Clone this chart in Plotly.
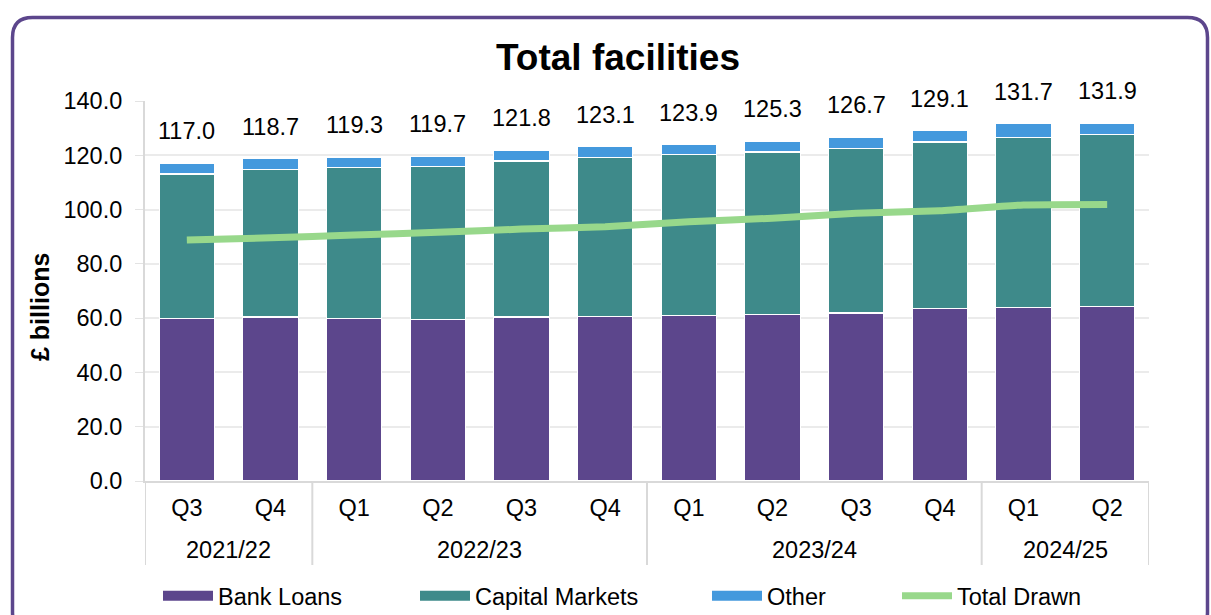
import plotly.graph_objects as go

# Financial-year groups and quarters for each bar
years = ["2021/22", "2021/22", "2022/23", "2022/23", "2022/23", "2022/23",
         "2023/24", "2023/24", "2023/24", "2023/24", "2024/25", "2024/25"]
quarters = ["Q3", "Q4", "Q1", "Q2", "Q3", "Q4", "Q1", "Q2", "Q3", "Q4", "Q1", "Q2"]

# Facilities by source (£ billions)
bank_loans = [59.9, 60.4, 59.8, 59.6, 60.4, 60.7, 61.0, 61.3, 61.9, 63.6, 64.0, 64.4]
capital_markets = [53.2, 54.4, 55.8, 56.4, 57.5, 58.6, 59.4, 59.9, 60.7, 61.3, 62.7, 63.3]
other = [3.9, 3.9, 3.7, 3.7, 3.9, 3.8, 3.5, 4.1, 4.1, 4.2, 5.0, 4.2]

# Amount drawn (£ billions)
total_drawn = [88.8, 89.6, 90.6, 91.6, 92.8, 93.7, 95.5, 96.8, 98.6, 99.6, 101.7, 101.9]

totals = [round(b + c + o, 1) for b, c, o in zip(bank_loans, capital_markets, other)]

PURPLE = "#5C468C"
TEAL = "#3E8A8A"
BLUE = "#4499DD"
GREEN = "#98D88B"
AXIS_GREY = "#D9D9D9"
FONT = "Liberation Sans, Arial, sans-serif"
FS = 23.5

W, H = 1211, 615
ML, MR, MT, MB = 145, 62, 101, 134
PW, PH = W - ML - MR, H - MT - MB


def px(x):
    return (x - ML) / PW


def py(y):
    return (H - MB - y) / PH


idx = list(range(len(quarters)))
fig = go.Figure()

for name, vals, col in [("Bank Loans", bank_loans, PURPLE),
                        ("Capital Markets", capital_markets, TEAL),
                        ("Other", other, BLUE)]:
    fig.add_trace(go.Bar(x=idx, y=vals, name=name, marker_color=col,
                         marker_line=dict(color="white", width=1.2),
                         showlegend=False))

fig.add_trace(go.Scatter(x=idx, y=total_drawn, name="Total Drawn", mode="lines",
                         line=dict(color=GREEN, width=7, shape="spline", smoothing=0.5),
                         showlegend=False))

# Legend entries drawn as wide swatches, one legend per entry
legend_items = [("Bank Loans", PURPLE, 11, 163),
                ("Capital Markets", TEAL, 11, 420),
                ("Other", BLUE, 11, 712),
                ("Total Drawn", GREEN, 7, 902)]
for i, (name, col, lw, left) in enumerate(legend_items):
    lg = "legend" if i == 0 else f"legend{i + 1}"
    fig.add_trace(go.Scatter(x=[idx[0]], y=[None], mode="lines",
                             name=name, line=dict(color=col, width=lw),
                             legend=lg, showlegend=True))
    fig.update_layout({lg: dict(x=(left - 5) / W, y=1 - 596 / H, xref="container",
                                yref="container", xanchor="left", yanchor="middle",
                                orientation="h", itemwidth=50, bgcolor="rgba(0,0,0,0)",
                                font=dict(family=FONT, size=FS, color="black"))})

annotations = []
for i, t in enumerate(totals):
    annotations.append(dict(x=i, y=t, xref="x", yref="y", text=f"{t:.1f}",
                            showarrow=False, yshift=32, yanchor="middle",
                            font=dict(family=FONT, size=FS, color="black")))

# Year group labels and dividers under the quarter labels
shapes = []
groups = []
for i, yr in enumerate(years):
    if not groups or groups[-1][0] != yr:
        groups.append([yr, i, i])
    else:
        groups[-1][2] = i
for yr, a, b in groups:
    annotations.append(dict(x=(a + b) / 2, y=py(550), xref="x", yref="paper", text=yr,
                            showarrow=False, xanchor="center", yanchor="middle",
                            font=dict(family=FONT, size=FS, color="black")))
bounds = [groups[0][1] - 0.5] + [g[2] + 0.5 for g in groups]
for xb in bounds:
    shapes.append(dict(type="line", xref="x", yref="paper", x0=xb, x1=xb,
                       y0=0, y1=py(565), line=dict(color=AXIS_GREY, width=2)))

annotations.append(dict(x=px(617.5), y=py(58), xref="paper", yref="paper",
                        text="<b>Total facilities</b>", showarrow=False,
                        xanchor="center", yanchor="middle",
                        font=dict(family=FONT, size=37, color="black")))
annotations.append(dict(x=px(40), y=py(307), xref="paper", yref="paper",
                        text="<b>£ billions</b>", showarrow=False, textangle=-90,
                        xanchor="center", yanchor="middle",
                        font=dict(family=FONT, size=25, color="black")))

# Rounded frame around the chart
L, T, R, B, r = 12.5, 17.5, 1207.5, 632, 20
pts = [("M", L, T + r), ("Q", L, T, L + r, T), ("L", R - r, T), ("Q", R, T, R, T + r),
       ("L", R, B - r), ("Q", R, B, R - r, B), ("L", L + r, B), ("Q", L, B, L, B - r)]
path = ""
for p in pts:
    cmd, coords = p[0], p[1:]
    pairs = [f"{px(coords[k]):.5f},{py(coords[k + 1]):.5f}" for k in range(0, len(coords), 2)]
    path += cmd + " ".join(pairs) + " "
path += "Z"
shapes.append(dict(type="path", xref="paper", yref="paper", path=path,
                   line=dict(color=PURPLE, width=3.5), layer="below"))

fig.update_layout(
    width=W, height=H,
    margin=dict(l=ML, r=MR, t=MT, b=MB),
    paper_bgcolor="white", plot_bgcolor="white",
    barmode="stack", bargap=0.34,
    font=dict(family=FONT, size=FS, color="black"),
    annotations=annotations,
    shapes=shapes,
    xaxis=dict(range=[-0.5, len(idx) - 0.5], tickmode="array", tickvals=idx,
               ticktext=quarters, showline=True, linecolor=AXIS_GREY, linewidth=2,
               ticks="", ticklabelstandoff=5, automargin=False,
               tickfont=dict(family=FONT, size=FS, color="black"), showgrid=False,
               zeroline=False),
    yaxis=dict(range=[0, 140], dtick=20, tickformat=".1f", showgrid=True,
               gridcolor="#EBEBEB", gridwidth=1.5, showline=True, linecolor=AXIS_GREY,
               linewidth=2, ticks="outside", ticklen=8, tickcolor="#E3E3E3",
               ticklabelstandoff=8, automargin=False,
               tickfont=dict(family=FONT, size=FS, color="black"), zeroline=False),
)

fig.write_html("out.html")
